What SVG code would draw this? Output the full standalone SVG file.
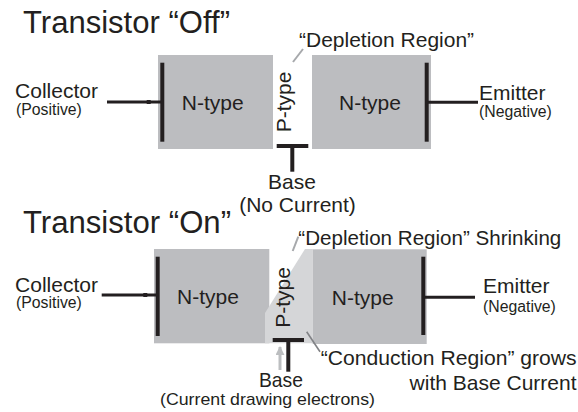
<svg xmlns="http://www.w3.org/2000/svg" width="578" height="412" viewBox="0 0 578 412">
<defs>
<style>
text{font-family:"Liberation Sans",Arial,sans-serif;fill:#231f20}
.title{font-size:31px}
.lbl{font-size:21px}
.sub{font-size:15.8px}
.n{fill:#bcbdc0}
.c{fill:#d5d6d8}
.bar{stroke:#231f20;stroke-width:4;fill:none}
.wire{stroke:#231f20;stroke-width:3;fill:none}
.lead{stroke:#a7a9ac;stroke-width:2;fill:none}
.lead2{stroke:#808285;stroke-width:1.6;fill:none}
</style>
<marker id="ah" viewBox="0 0 10 10" refX="9" refY="5" markerWidth="3" markerHeight="3" orient="auto"><path d="M0,0L10,5L0,10z" fill="#bcbec0"/></marker>
</defs>
<rect width="578" height="412" fill="#fff"/>

<text class="title" x="23" y="33.3" textLength="207" lengthAdjust="spacingAndGlyphs">Transistor “Off”</text>
<text class="title" x="23" y="232.7" textLength="208" lengthAdjust="spacingAndGlyphs">Transistor “On”</text>

<!-- OFF diagram -->
<g id="off-collector">
<text class="lbl" x="15" y="98.3" textLength="83" lengthAdjust="spacingAndGlyphs">Collector</text>
<text class="sub" x="16" y="115.3">(Positive)</text>
</g>
<g id="off-n-left">
<rect class="n" x="158" y="55" width="115" height="94"/>
<line class="bar" x1="162.3" y1="62.7" x2="162.3" y2="141.7"/>
<text class="lbl" x="212.7" y="110" text-anchor="middle">N-type</text>
</g>
<g id="off-p">
<text class="lbl" transform="translate(291,102) rotate(-90)" text-anchor="middle">P-type</text>
<line class="bar" x1="276.7" y1="146" x2="308.3" y2="146"/>
</g>
<g id="off-n-right">
<rect class="n" x="312" y="55" width="119" height="94"/>
<line class="bar" x1="426.7" y1="62.7" x2="426.7" y2="141.7"/>
<text class="lbl" x="370" y="110" text-anchor="middle">N-type</text>
</g>
<g id="off-emitter">
<text class="lbl" x="479" y="100">Emitter</text>
<text class="sub" x="479" y="116.7">(Negative)</text>
</g>
<g id="off-base">
<text class="lbl" x="292" y="189" text-anchor="middle">Base</text>
<text class="lbl" x="297.5" y="212" text-anchor="middle">(No Current)</text>
</g>
<g id="off-depletion">
<text class="lbl" x="299" y="46.7">“Depletion Region”</text>
</g>

<!-- ON diagram -->
<g id="on-collector">
<text class="lbl" x="15" y="291.7" textLength="83" lengthAdjust="spacingAndGlyphs">Collector</text>
<text class="sub" x="16" y="308">(Positive)</text>
</g>
<g id="on-n-left">
<rect class="n" x="154" y="249" width="115.3" height="94.3"/>
<line class="bar" x1="157.7" y1="256.7" x2="157.7" y2="336"/>
<text class="lbl" x="208" y="304" text-anchor="middle">N-type</text>
</g>
<g id="on-p">
<polygon class="c" points="305,249 312.7,249 312.7,343.3 265,343.3 265,313"/>
<text class="lbl" transform="translate(289.5,297.5) rotate(-90)" text-anchor="middle">P-type</text>
<line class="bar" x1="272.7" y1="340" x2="304" y2="340"/>
</g>
<g id="on-n-right">
<rect class="n" x="312.7" y="249.3" width="114" height="94.7"/>
<line class="bar" x1="423.3" y1="256.7" x2="423.3" y2="335"/>
<text class="lbl" x="362.7" y="305" text-anchor="middle">N-type</text>
</g>
<g id="on-emitter">
<text class="lbl" x="483" y="293.3">Emitter</text>
<text class="sub" x="483" y="311.7">(Negative)</text>
</g>
<g id="on-base">
<text class="lbl" x="281" y="387" text-anchor="middle" textLength="44" lengthAdjust="spacingAndGlyphs">Base</text>
<text x="160" y="405" font-size="17" textLength="215" lengthAdjust="spacingAndGlyphs">(Current drawing electrons)</text>
</g>
<g id="on-depletion">
<text class="lbl" x="298.3" y="245" textLength="263" lengthAdjust="spacingAndGlyphs">“Depletion Region” Shrinking</text>
</g>
<g id="on-conduction">
<text class="lbl" x="320.7" y="365" textLength="256" lengthAdjust="spacingAndGlyphs">“Conduction Region” grows</text>
<text class="lbl" x="576.5" y="390" text-anchor="end">with Base Current</text>
</g>

<g id="connectors">
<line class="wire" x1="107" y1="102" x2="162" y2="102"/>
<rect x="146.7" y="100" width="4" height="4" fill="#231f20"/>
<line class="wire" x1="427" y1="102.3" x2="478" y2="102.3"/>
<line class="bar" x1="292.3" y1="146" x2="292.3" y2="171.7"/>
<line class="lead" x1="303" y1="49" x2="293" y2="62"/>

<line class="wire" x1="101.7" y1="295" x2="157.7" y2="295"/>
<rect x="143.3" y="293" width="4" height="4" fill="#231f20"/>
<line class="wire" x1="423.3" y1="297.3" x2="475" y2="297.3"/>
<line class="bar" x1="288.3" y1="340" x2="288.3" y2="371.7"/>
<line class="lead" x1="298.3" y1="236.7" x2="292.7" y2="251"/>
<line class="lead2" x1="306.7" y1="331.7" x2="320" y2="351.7"/>
<line x1="280" y1="370" x2="280" y2="347" stroke="#bcbec0" stroke-width="3" marker-end="url(#ah)"/>
</g>
</svg>
